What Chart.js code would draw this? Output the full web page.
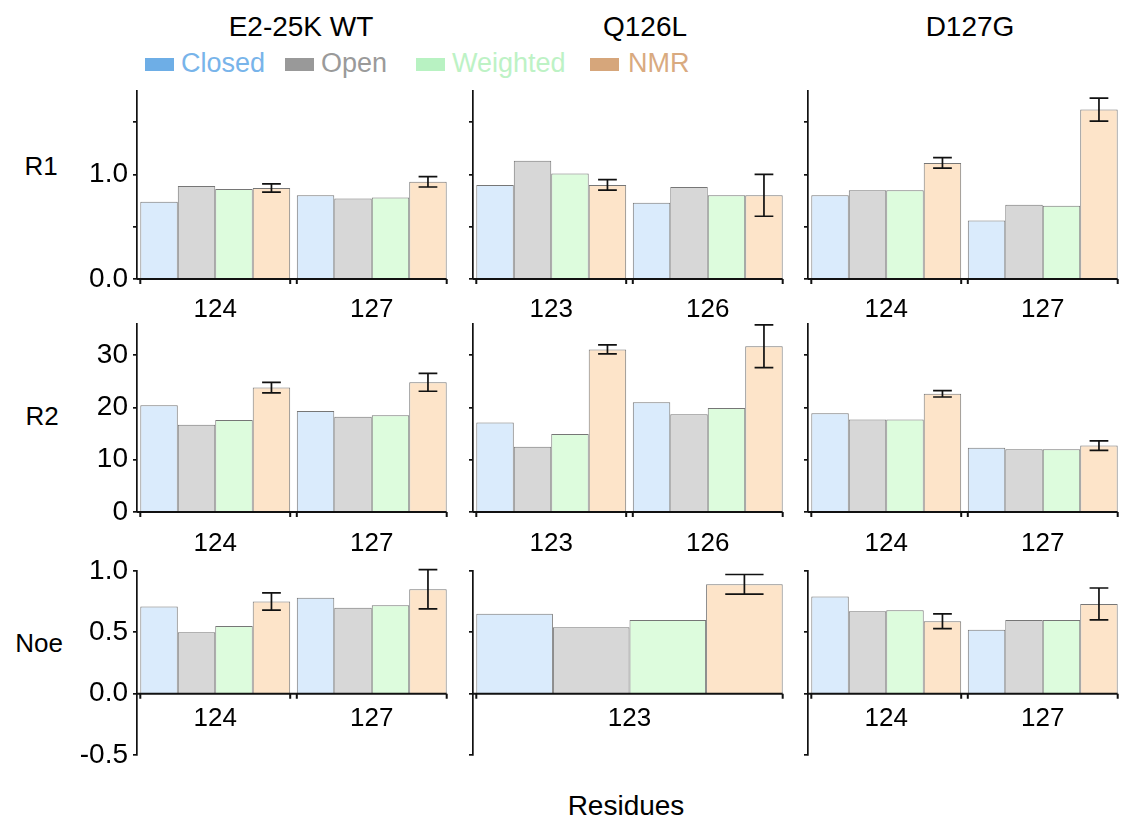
<!DOCTYPE html>
<html>
<head>
<meta charset="utf-8">
<script src="https://cdn.jsdelivr.net/npm/chart.js@4.4.1/dist/chart.umd.min.js"></script>
<style>
  body { margin: 0; background: #fff; font-family: "Liberation Sans", Arial, sans-serif; }
  #page { position: relative; width: 1121px; height: 823px; overflow: hidden; }
  .txt { position: absolute; font-size: 26px; line-height: 1; color: #000; white-space: nowrap; transform: translate(-50%, -50%); }
  .big { font-size: 28px; }
  .leg { position: absolute; font-size: 27px; line-height: 1; white-space: nowrap; transform: translateY(-50%); }
  .box { position: absolute; width: 29px; height: 13px; }
  canvas { position: absolute; }
</style>
</head>
<body>
<div id="page"></div>
<script>
// ---- data ----
const columns = ["E2-25K WT", "Q126L", "D127G"];
const rowNames = ["R1", "R2", "Noe"];
const seriesNames = ["Closed", "Open", "Weighted", "NMR"];

// residues per column, for each row
const residuesR1 = [["124", "127"], ["123", "126"], ["124", "127"]];
const residuesR2 = [["124", "127"], ["123", "126"], ["124", "127"]];
const residuesNoe = [["124", "127"], ["123"], ["124", "127"]];

// R1 (one inner array per column)
const r1Closed   = [[0.74, 0.80], [0.90, 0.73], [0.80, 0.56]];
const r1Open     = [[0.89, 0.77], [1.13, 0.88], [0.85, 0.71]];
const r1Weighted = [[0.86, 0.78], [1.01, 0.80], [0.85, 0.70]];
const r1Nmr      = [[0.87, 0.93], [0.90, 0.80], [1.11, 1.62]];
const r1NmrErr   = [[0.04, 0.05], [0.05, 0.20], [0.05, 0.11]];

// R2
const r2Closed   = [[20.4, 19.3], [17.1, 21.0], [18.9, 12.3]];
const r2Open     = [[16.7, 18.2], [12.5, 18.7], [17.7, 12.0]];
const r2Weighted = [[17.6, 18.5], [14.9, 19.9], [17.7, 12.0]];
const r2Nmr      = [[23.8, 24.8], [31.1, 31.7], [22.6, 12.7]];
const r2NmrErr   = [[1.0, 1.7], [0.85, 4.1], [0.6, 0.9]];

// Noe
const noeClosed   = [[0.71, 0.78], [0.65], [0.79, 0.52]];
const noeOpen     = [[0.50, 0.70], [0.54], [0.67, 0.60]];
const noeWeighted = [[0.55, 0.72], [0.60], [0.68, 0.60]];
const noeNmr      = [[0.75, 0.85], [0.89], [0.59, 0.73]];
const noeNmrErr   = [[0.07, 0.16], [0.08], [0.06, 0.13]];

// ---- styling ----
const barFills = ["#daebfc", "#d7d7d7", "#ddfcdd", "#fde4c9"];
const legendBoxes = ["#6eaee6", "#999999", "#b8f2c2", "#d6a67b"];
const legendTexts = ["#78b4ea", "#9a9a9a", "#bdf2c5", "#d9aa80"];
const FONT = '"Liberation Sans", Arial, sans-serif';

const rows = [
  { residues: residuesR1, series: [r1Closed, r1Open, r1Weighted, r1Nmr], err: r1NmrErr,
    min: 0, max: 1.8, step: 0.5, shown: [0, 1], fmt: v => v.toFixed(1), labelOffset: 31 },
  { residues: residuesR2, series: [r2Closed, r2Open, r2Weighted, r2Nmr], err: r2NmrErr,
    min: 0, max: 36, step: 10, shown: [0, 10, 20, 30], fmt: v => String(v), labelOffset: 32 },
  { residues: residuesNoe, series: [noeClosed, noeOpen, noeWeighted, noeNmr], err: noeNmrErr,
    min: -0.5, max: 1.0, step: 0.5, shown: [-0.5, 0, 0.5, 1], fmt: v => v.toFixed(1), labelOffset: 25 }
];

// layout
const axisX = [137, 473, 808];
const rowTop = [87, 320, 567];
const areaH = 192, areaW = 313, yAxisW = 70, padTop = 18;

const page = document.getElementById("page");
function addText(cls, text, x, y, color) {
  const d = document.createElement("div");
  d.className = cls; d.textContent = text;
  d.style.left = x + "px"; d.style.top = y + "px";
  if (color) d.style.color = color;
  page.appendChild(d);
}

// titles, row labels, axis title
[301, 645, 970].forEach((x, i) => addText("txt big", columns[i], x, 27));
[[41, 166], [42, 416], [39, 643]].forEach(([x, y], i) => addText("txt", rowNames[i], x, y));
addText("txt big", "Residues", 626, 806);

// legend
const legendPos = [[145, 181], [285, 321], [416, 452], [590, 628]];
seriesNames.forEach((name, i) => {
  const b = document.createElement("div");
  b.className = "box";
  b.style.left = legendPos[i][0] + "px"; b.style.top = "58px";
  b.style.background = legendBoxes[i];
  page.appendChild(b);
  addText("leg", name, legendPos[i][1], 63, legendTexts[i]);
});

// zero axis, group ticks, residue labels and NMR error bars
const residueAxis = {
  id: "residueAxis",
  afterDatasetsDraw(chart, args, opts) {
    const ctx = chart.ctx, y = chart.scales.y, area = chart.chartArea;
    const y0 = y.getPixelForValue(0);
    const first = chart.getDatasetMeta(0).data;
    const last = chart.getDatasetMeta(3).data;
    const nmr = chart.data.datasets[3];
    ctx.save();
    ctx.strokeStyle = "#111";
    ctx.lineWidth = 1.7;
    ctx.beginPath();
    last.forEach((bar, i) => {
      const v = nmr.data[i], e = opts.err[i];
      const t = y.getPixelForValue(v + e), b = y.getPixelForValue(v - e);
      const cap = bar.width / 4;
      ctx.moveTo(bar.x, t); ctx.lineTo(bar.x, b);
      ctx.moveTo(bar.x - cap, t); ctx.lineTo(bar.x + cap, t);
      ctx.moveTo(bar.x - cap, b); ctx.lineTo(bar.x + cap, b);
    });
    ctx.stroke();

    const edges = first.map((b, i) => [b.x - b.width / 2, last[i].x + last[i].width / 2]);
    ctx.lineWidth = 2;
    ctx.beginPath();
    ctx.moveTo(area.left, y0);
    ctx.lineTo(edges[edges.length - 1][1], y0);
    edges.forEach(([a, b]) => {
      ctx.moveTo(a, y0); ctx.lineTo(a, y0 + 5);
      ctx.moveTo(b, y0); ctx.lineTo(b, y0 + 5);
    });
    ctx.stroke();

    ctx.fillStyle = "#000";
    ctx.font = "26px " + FONT;
    ctx.textAlign = "center";
    ctx.textBaseline = "middle";
    chart.data.labels.forEach((lab, i) => {
      ctx.fillText(lab, (edges[i][0] + edges[i][1]) / 2, y0 + opts.labelOffset);
    });
    ctx.restore();
  }
};

rows.forEach((row, r) => {
  columns.forEach((col, c) => {
    const labels = row.residues[c];
    const padBottom = r < 2 ? 50 : 18;
    const canvas = document.createElement("canvas");
    const w = yAxisW + areaW + 4, h = padTop + areaH + padBottom;
    canvas.width = w; canvas.height = h;
    canvas.style.width = w + "px"; canvas.style.height = h + "px";
    canvas.style.left = (axisX[c] - yAxisW) + "px";
    canvas.style.top = (rowTop[r] - padTop) + "px";
    page.appendChild(canvas);

    const catW = areaW / labels.length;
    new Chart(canvas, {
      type: "bar",
      data: {
        labels: labels,
        datasets: seriesNames.map((name, s) => ({
          label: name,
          data: row.series[s][c],
          backgroundColor: barFills[s],
          borderColor: "#767676",
          borderWidth: 1
        }))
      },
      options: {
        responsive: false,
        animation: false,
        layout: { padding: { top: padTop, bottom: padBottom, left: 0, right: 4 } },
        datasets: { bar: { categoryPercentage: (catW - 6.6) / catW, barPercentage: 1 } },
        plugins: {
          legend: { display: false },
          tooltip: { enabled: false },
          residueAxis: { err: row.err[c], labelOffset: row.labelOffset }
        },
        scales: {
          x: { display: false, offset: true },
          y: {
            min: row.min, max: row.max,
            afterFit: s => { s.width = yAxisW; },
            border: { display: true, color: "#111", width: 1.7 },
            grid: { display: true, drawOnChartArea: false, drawTicks: true, tickLength: 4, color: "#111", lineWidth: 1.7 },
            ticks: {
              stepSize: row.step,
              includeBounds: false,
              padding: 5,
              color: "#000",
              font: { size: 28, family: FONT },
              callback: v => (c === 0 && row.shown.some(s => Math.abs(s - v) < 1e-9)) ? row.fmt(v) : ""
            }
          }
        }
      },
      plugins: [residueAxis]
    });
  });
});
</script>
</body>
</html>
